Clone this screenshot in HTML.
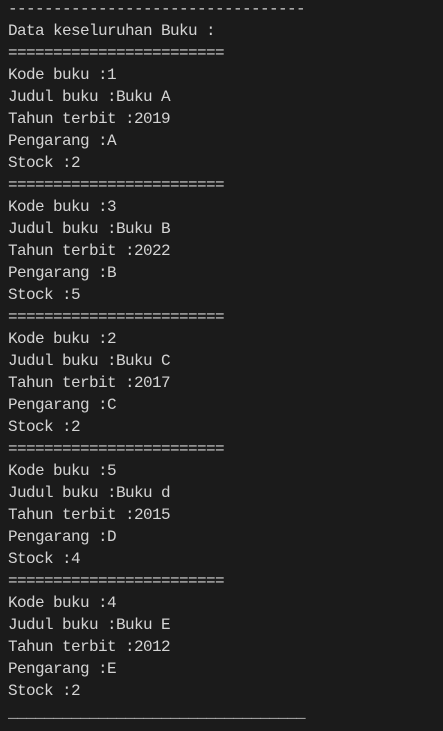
<!DOCTYPE html>
<html><head><meta charset="utf-8"><style>
html,body{margin:0;padding:0;width:443px;height:731px;background:#1b1b1b;overflow:hidden}
pre{position:absolute;left:8px;top:-2px;margin:0;font-family:"Liberation Mono",monospace;font-size:16px;letter-spacing:-0.6px;line-height:22px;color:#d4d4d4}
</style></head><body><pre>---------------------------------
Data keseluruhan Buku :
========================
Kode buku :1
Judul buku :Buku A
Tahun terbit :2019
Pengarang :A
Stock :2
========================
Kode buku :3
Judul buku :Buku B
Tahun terbit :2022
Pengarang :B
Stock :5
========================
Kode buku :2
Judul buku :Buku C
Tahun terbit :2017
Pengarang :C
Stock :2
========================
Kode buku :5
Judul buku :Buku d
Tahun terbit :2015
Pengarang :D
Stock :4
========================
Kode buku :4
Judul buku :Buku E
Tahun terbit :2012
Pengarang :E
Stock :2
_________________________________</pre></body></html>
